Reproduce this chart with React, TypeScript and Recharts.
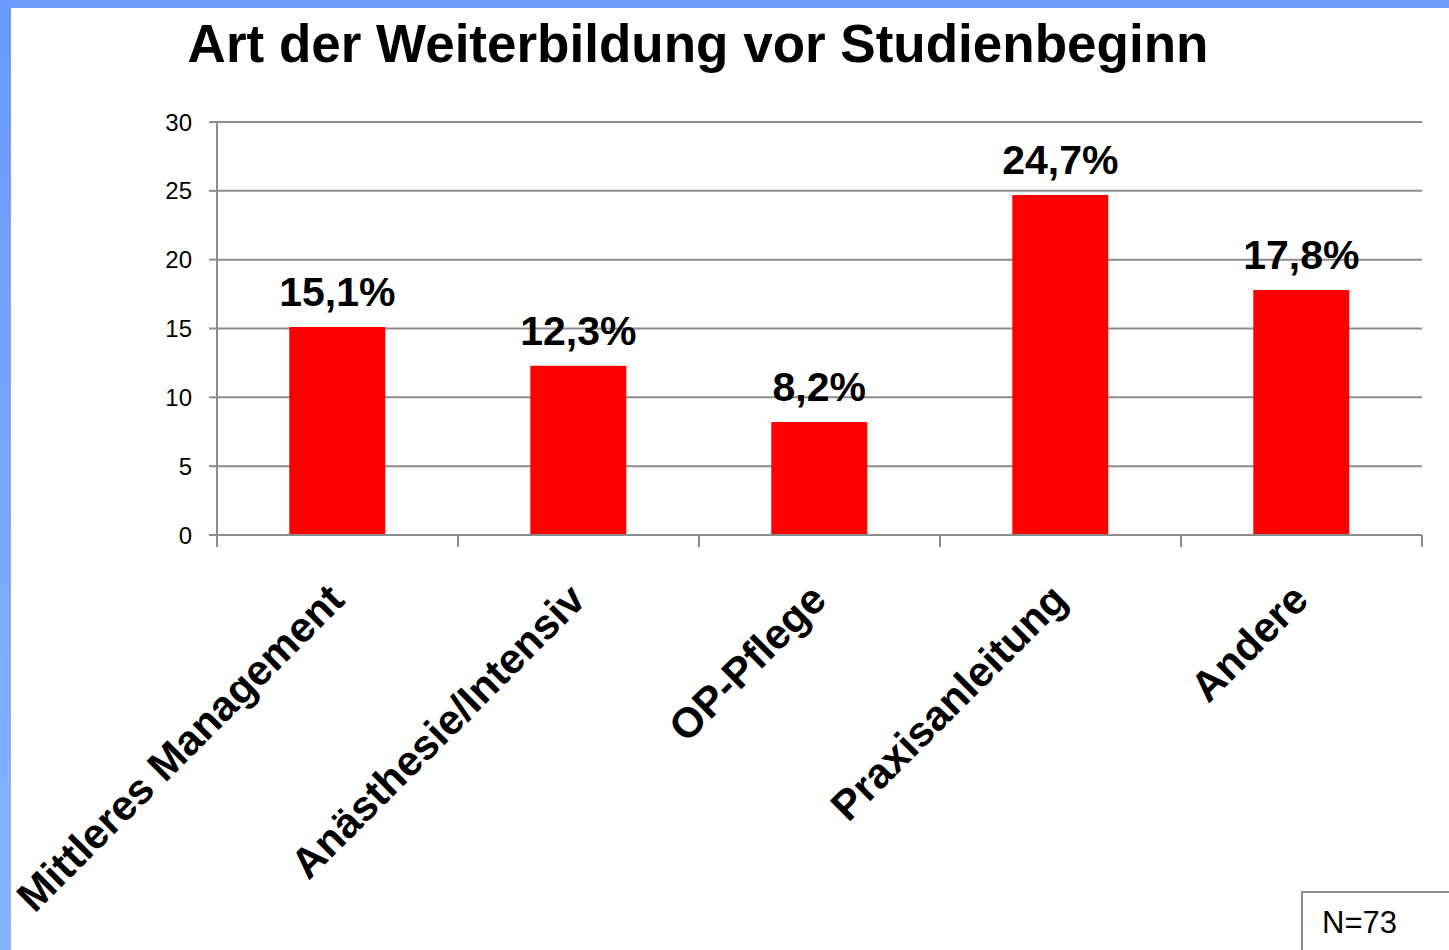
import { BarChart, Bar, XAxis, YAxis, CartesianGrid, LabelList } from 'recharts';

const categories = ['Mittleres Management', 'Anästhesie/Intensiv', 'OP-Pflege', 'Praxisanleitung', 'Andere'];
const shares = [15.1, 12.3, 8.2, 24.7, 17.8];
const yTicks = [0, 5, 10, 15, 20, 25, 30];
const title = 'Art der Weiterbildung vor Studienbeginn';
const sampleNote = 'N=73';

const data = categories.map((name, i) => ({ name, value: shares[i] }));

const FONT = '"Liberation Sans", Arial, Helvetica, sans-serif';
const GREY = '#8c8c8c';
const W = 1449;
const H = 950;
const PLOT_LEFT = 217;
const PLOT_RIGHT = 1422;
const HALF_BAND = (PLOT_RIGHT - PLOT_LEFT) / categories.length / 2;

// x labels sit at -45°, ticks are drawn on the category boundaries like in Excel
function CategoryTick(props: any) {
    const { x, y, payload, index } = props;
    const last = index === categories.length - 1;
    const tx = x + 9;
    const ty = y + 55;
    return (
        <g>
            <line x1={x - HALF_BAND} y1={y - 12} x2={x - HALF_BAND} y2={y} stroke={GREY} strokeWidth={2} />
            {last && <line x1={x + HALF_BAND} y1={y - 12} x2={x + HALF_BAND} y2={y} stroke={GREY} strokeWidth={2} />}
            <text
                x={tx}
                y={ty}
                transform={`rotate(-45, ${tx}, ${ty})`}
                textAnchor="end"
                fontFamily={FONT}
                fontWeight={700}
                fontSize={42}
                fill="#000"
            >
                {payload.value}
            </text>
        </g>
    );
}

export default function App() {
    return (
        <div style={{ position: 'relative', width: W, height: H, background: '#fff', overflow: 'hidden' }}>
            <style>{'body{margin:0;}'}</style>
            <BarChart
                width={W}
                height={H}
                data={data}
                margin={{ top: 122, right: W - PLOT_RIGHT, bottom: 0, left: 0 }}
                barCategoryGap="30%"
            >
                <CartesianGrid vertical={false} stroke={GREY} strokeWidth={2} />
                <XAxis
                    dataKey="name"
                    interval={0}
                    height={415}
                    tickLine={false}
                    tickSize={12}
                    tickMargin={0}
                    axisLine={{ stroke: GREY, strokeWidth: 2 }}
                    tick={<CategoryTick />}
                />
                <YAxis
                    width={PLOT_LEFT}
                    domain={[0, 30]}
                    ticks={yTicks}
                    interval={0}
                    tickSize={8}
                    tickMargin={17}
                    axisLine={{ stroke: GREY, strokeWidth: 2 }}
                    tickLine={{ stroke: GREY, strokeWidth: 2 }}
                    tick={{ fill: '#000', fontSize: 24, fontFamily: FONT }}
                />
                <Bar dataKey="value" fill="#ff0000" isAnimationActive={false}>
                    <LabelList
                        dataKey="value"
                        position="top"
                        offset={21}
                        formatter={(v: any) => `${Number(v).toFixed(1).replace('.', ',')}%`}
                        style={{ fill: '#000', fontSize: 41, fontWeight: 700, fontFamily: FONT }}
                    />
                </Bar>
            </BarChart>

            <svg width={W} height={H} style={{ position: 'absolute', left: 0, top: 0, pointerEvents: 'none' }}>
                <defs>
                    <linearGradient id="edge" x1="0" y1="0" x2="0" y2="1">
                        <stop offset="0%" stopColor="#6a99ff" />
                        <stop offset="100%" stopColor="#85b5ff" />
                    </linearGradient>
                </defs>
                <rect x={0} y={0} width={W} height={8} fill="#6e9cff" />
                <rect x={0} y={0} width={11} height={H} fill="url(#edge)" />
                <text x={698} y={62} textAnchor="middle" fontFamily={FONT} fontWeight={700} fontSize={53} fill="#000">
                    {title}
                </text>
                <rect x={1302} y={892} width={200} height={100} fill="#fff" stroke={GREY} strokeWidth={2} />
                <text x={1322} y={933} fontFamily={FONT} fontSize={31} fill="#000">
                    {sampleNote}
                </text>
            </svg>
        </div>
    );
}
